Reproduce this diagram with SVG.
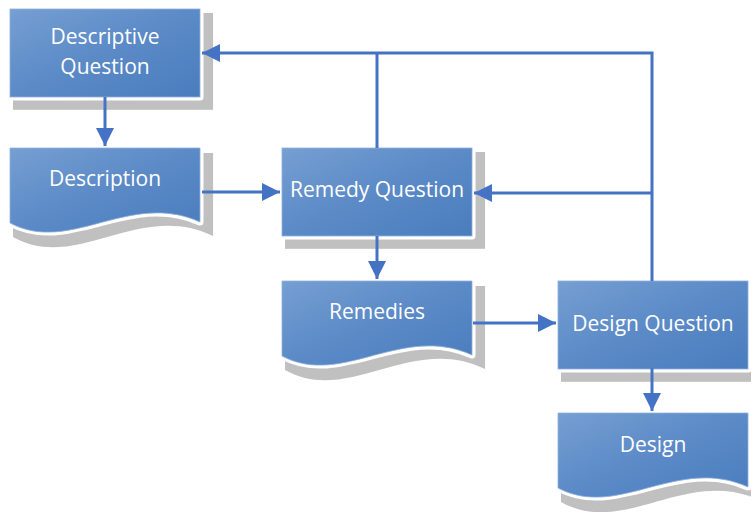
<svg xmlns="http://www.w3.org/2000/svg" width="751" height="512" viewBox="0 0 751 512">
  <defs>
    <linearGradient id="fill" x1="0" y1="0" x2="1" y2="1">
      <stop offset="0" stop-color="#769fd2"/>
      <stop offset="0.5" stop-color="#5b8ac7"/>
      <stop offset="1" stop-color="#4a7dbd"/>
    </linearGradient>
    <!-- process box and document shapes in local coordinates -->
    <rect id="box" x="0" y="0" width="190" height="88"/>
    <path id="doc" d="M0,0 H190 V74 C120,42 60,107 0,75 Z"/>
    <marker id="arrow" viewBox="0 0 10 10" refX="10" refY="5" markerWidth="6" markerHeight="6" markerUnits="strokeWidth" orient="auto">
      <path d="M0,0 L10,5 L0,10 Z" fill="#4472c4"/>
    </marker>
  </defs>
  <style>
    .shadow { fill: #c0c0c0; }
    .halo { fill: #ffffff; stroke: #ffffff; stroke-width: 7; stroke-linejoin: round; }
    .shape { fill: url(#fill); stroke: #8fb0dc; stroke-width: 0.8; }
    .label { font-family: "Open Sans", "Liberation Sans", sans-serif; font-size: 21px; fill: #ffffff; text-anchor: middle; }
    .conn { fill: none; stroke: #4472c4; stroke-width: 3; }
  </style>

  <rect width="751" height="512" fill="#ffffff"/>

  <g id="descriptive-question" transform="translate(10,9)">
    <use href="#box" class="shadow" transform="translate(3,4) scale(1.053,1.1)"/>
    <use href="#box" class="halo"/>
    <use href="#box" class="shape"/>
    <text class="label" x="95" y="35">Descriptive</text>
    <text class="label" x="95" y="65">Question</text>
  </g>

  <g id="description" transform="translate(10,148)">
    <use href="#doc" class="shadow" transform="translate(3,5) scale(1.053,1.12)"/>
    <use href="#doc" class="halo"/>
    <use href="#doc" class="shape"/>
    <text class="label" x="95" y="38">Description</text>
  </g>

  <g id="remedy-question" transform="translate(282,148)">
    <use href="#box" class="shadow" transform="translate(3,4) scale(1.053,1.1)"/>
    <use href="#box" class="halo"/>
    <use href="#box" class="shape"/>
    <text class="label" x="95" y="49">Remedy Question</text>
  </g>

  <g id="remedies" transform="translate(282,281)">
    <use href="#doc" class="shadow" transform="translate(3,5) scale(1.053,1.12)"/>
    <use href="#doc" class="halo"/>
    <use href="#doc" class="shape"/>
    <text class="label" x="95" y="38">Remedies</text>
  </g>

  <g id="design-question" transform="translate(558,281)">
    <use href="#box" class="shadow" transform="translate(3,4) scale(1.053,1.1)"/>
    <use href="#box" class="halo"/>
    <use href="#box" class="shape"/>
    <text class="label" x="95" y="50">Design Question</text>
  </g>

  <g id="design" transform="translate(558,413)">
    <use href="#doc" class="shadow" transform="translate(3,5) scale(1.053,1.12)"/>
    <use href="#doc" class="halo"/>
    <use href="#doc" class="shape"/>
    <text class="label" x="95" y="39">Design</text>
  </g>

  <g id="connectors">
    <path class="conn" d="M105,97 V146" marker-end="url(#arrow)"/>
    <path class="conn" d="M202,192 H280" marker-end="url(#arrow)"/>
    <path class="conn" d="M377,236 V279" marker-end="url(#arrow)"/>
    <path class="conn" d="M473,323 H556" marker-end="url(#arrow)"/>
    <path class="conn" d="M652,368 V411" marker-end="url(#arrow)"/>
    <path class="conn" d="M652,281 V53 H202" marker-end="url(#arrow)"/>
    <path class="conn" d="M377,148 V53"/>
    <path class="conn" d="M652,193 H474" marker-end="url(#arrow)"/>
  </g>
</svg>
